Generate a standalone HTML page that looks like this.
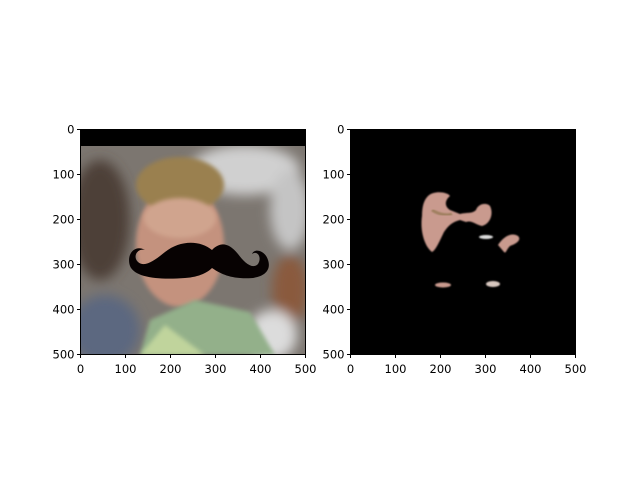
<!DOCTYPE html>
<html><head><meta charset="utf-8"><style>
body{margin:0;background:#fff}svg{display:block;font-family:"DejaVu Sans","Liberation Sans",sans-serif}
</style></head><body>
<svg width="640" height="480">
<defs>
<filter id="b6"><feGaussianBlur stdDeviation="6"/></filter>
<filter id="b2"><feGaussianBlur stdDeviation="2"/></filter>
<filter id="b1"><feGaussianBlur stdDeviation="0.8"/></filter>
<clipPath id="c1"><rect x="80" y="146" width="226" height="209"/></clipPath>
</defs>
<g>
<rect x="80" y="129" width="226" height="226" fill="#000"/>
<g clip-path="url(#c1)">
<rect x="80" y="146" width="226" height="209" fill="#7c7670"/>
<g filter="url(#b6)">
<ellipse cx="100" cy="220" rx="30" ry="60" fill="#4e4038"/>
<ellipse cx="105" cy="330" rx="35" ry="35" fill="#5c6880"/>
<ellipse cx="245" cy="170" rx="55" ry="25" fill="#d0d0d0"/>
<ellipse cx="290" cy="210" rx="20" ry="40" fill="#c4c4c4"/>
<ellipse cx="290" cy="290" rx="18" ry="35" fill="#8a5a3c"/>
<ellipse cx="272" cy="335" rx="25" ry="25" fill="#dcdcdc"/>
</g>
<ellipse cx="180" cy="245" rx="44" ry="62" fill="#c4927e" filter="url(#b2)"/>
<ellipse cx="180" cy="185" rx="44" ry="28" fill="#9a8050" filter="url(#b2)"/>
<ellipse cx="180" cy="218" rx="36" ry="20" fill="#d0a48e" filter="url(#b2)"/>
<path d="M140 355 L150 320 L195 300 L250 312 L275 355 Z" fill="#93b08a" filter="url(#b2)"/>
<path d="M140 355 L165 325 L205 355 Z" fill="#c0d49c" filter="url(#b2)"/>
</g>
<path d="M212 250 C200 240 180 240 165 252 C155 260 145 268 138 262 C132 256 138 248 145 250 C135 244 126 254 130 266 C135 278 160 280 185 278 C200 277 208 272 212 268 C218 272 226 277 240 278 C262 280 272 272 268 260 C265 250 254 248 252 254 C258 250 262 258 258 264 C252 270 244 262 238 254 C228 242 220 242 212 250 Z" fill="#070202"/>
<rect x="80.5" y="129.5" width="225" height="225" fill="none" stroke="#000" stroke-width="1"/>
</g>
<g>
<rect x="350" y="129" width="226" height="226" fill="#000"/>
<g filter="url(#b1)" fill="#c99a8e">
<path d="M428 196 C434 190 448 192 450 196 C445 200 444 206 450 210 L460 214 C468 212 472 214 476 210 C478 204 486 202 490 206 C494 214 490 224 482 226 C474 224 472 220 466 222 L460 220 C452 222 448 226 444 232 C440 240 436 250 432 252 C424 246 420 230 422 216 C422 206 424 200 428 196 Z"/>
<path d="M498 245 C504 236 512 232 518 236 C522 240 516 244 510 246 C506 250 506 254 504 252 Z"/>
<ellipse cx="486" cy="237" rx="7" ry="2" fill="#ddd"/>
<ellipse cx="443" cy="285" rx="8" ry="2.5"/>
<ellipse cx="493" cy="284" rx="7" ry="3" fill="#d8c8c0"/>
</g>
<path d="M432 210 C438 214 446 216 452 214" stroke="#a08060" stroke-width="3" fill="none" filter="url(#b1)"/>
<rect x="350.5" y="129.5" width="225" height="225" fill="none" stroke="#000" stroke-width="1"/>
</g>
<g id="ticks" font-size="11.5" fill="#000"></g>
<script>
const tickVals=[0,100,200,300,400,500];
const axesLeft=[80.5,350.5];
const g=document.getElementById('ticks');
const ns='http://www.w3.org/2000/svg';
function sx(x0,v){return x0+v*225/500;}
function sy(v){return 129.5+v*225/500;}
axesLeft.forEach((x0,ai)=>{
 tickVals.forEach(v=>{
  const l=document.createElementNS(ns,'line');
  l.setAttribute('x1',sx(x0,v));l.setAttribute('x2',sx(x0,v));l.setAttribute('y1',354.5);l.setAttribute('y2',358);l.setAttribute('stroke','#000');
  
  
  g.appendChild(l);
  const t=document.createElementNS(ns,'text');
  t.setAttribute('x',sx(x0,v));t.setAttribute('y',373);t.setAttribute('text-anchor','middle');t.textContent=v;
  
  
  g.appendChild(t);
  const l2=document.createElementNS(ns,'line');
  l2.setAttribute('x1',x0-3.5);l2.setAttribute('x2',x0);l2.setAttribute('y1',sy(v));l2.setAttribute('y2',sy(v));l2.setAttribute('stroke','#000');
  
  
  g.appendChild(l2);
  const t2=document.createElementNS(ns,'text');
  t2.setAttribute('x',x0-6);t2.setAttribute('y',sy(v)+4);t2.setAttribute('text-anchor','end');t2.textContent=v;
  
  
  g.appendChild(t2);
 });
});
</script>
</svg>
</body></html>
